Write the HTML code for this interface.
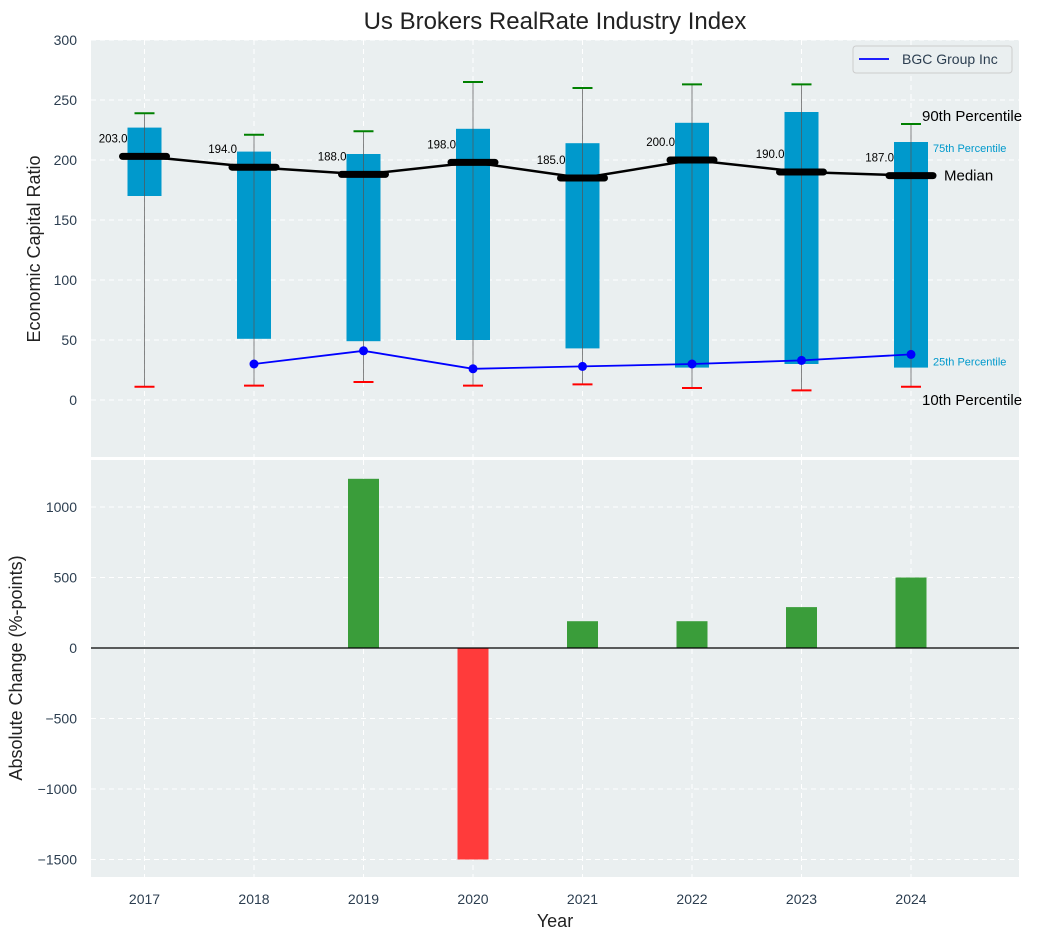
<!DOCTYPE html>
<html><head><meta charset="utf-8">
<style>
body{margin:0;background:#fff;font-family:"Liberation Sans",sans-serif;}
svg text{font-family:"Liberation Sans",sans-serif;}
</style></head>
<body>
<svg id="c" width="1043" height="940"></svg>
<script>
const years=["2017","2018","2019","2020","2021","2022","2023","2024"];
const p10=[11,12,15,12,13,10,8,11];
const p25=[170,51,49,50,43,27,30,27];
const medians=[203,194,188,198,185,200,190,187];
const p75=[227,207,205,226,214,231,240,215];
const p90=[239,221,224,265,260,263,263,230];
const bgcYears=["2018","2019","2020","2021","2022","2023","2024"];
const bgcValues=[30,41,26,28,30,33,38];
const changes=[0,0,1200,-1500,190,190,290,500];
const topTicks=[0,50,100,150,200,250,300];
const botTicks=[-1500,-1000,-500,0,500,1000];

const NS="http://www.w3.org/2000/svg";
const svg=document.getElementById('c');
function el(tag,attrs,parent){const e=document.createElementNS(NS,tag);for(const k in attrs)e.setAttribute(k,attrs[k]);(parent||svg).appendChild(e);return e;}
const L=91,R=1019;
const T1=40,B1=457,T2=460,B2=877;
function x(i){return 144.5+i*109.5;}
function y1(v){return 400-v*1.2;}
function y2(v){return 648-v*0.141;}
function xi(yr){return years.indexOf(yr);}

let bg1=el('rect',{x:L,y:T1,width:R-L,height:B1-T1,fill:'#eaeff0'});


let bg2=el('rect',{x:L,y:T2,width:R-L,height:B2-T2,fill:'#eaeff0'});



years.forEach((yr,i)=>{
  let g=el('line',{x1:x(i),x2:x(i),y1:T1,y2:B1,stroke:'#fff','stroke-dasharray':'5,4','stroke-width':1});
  
  
  let g2=el('line',{x1:x(i),x2:x(i),y1:T2,y2:B2,stroke:'#fff','stroke-dasharray':'5,4','stroke-width':1});
  
  
  let t=el('text',{x:x(i),y:904,'text-anchor':'middle','font-size':14,fill:'#2c3e50'});
  t.textContent=yr;
  
  
});
topTicks.forEach(v=>{
  let g=el('line',{x1:L,x2:R,y1:y1(v),y2:y1(v),stroke:'#fff','stroke-dasharray':'5,4'});
  
  
  let t=el('text',{x:77,y:y1(v)+5,'text-anchor':'end','font-size':14,fill:'#2c3e50'});
  t.textContent=v;
  
  
});
botTicks.forEach(v=>{
  let g=el('line',{x1:L,x2:R,y1:y2(v),y2:y2(v),stroke:'#fff','stroke-dasharray':'5,4'});
  
  
  let t=el('text',{x:77,y:y2(v)+5,'text-anchor':'end','font-size':14,fill:'#2c3e50'});
  t.textContent=(v<0?'\u2212'+(-v):v);
  
  
});

years.forEach((yr,i)=>{
  let b=el('rect',{x:x(i)-17,y:y1(p75[i]),width:34,height:y1(p25[i])-y1(p75[i]),fill:'#0099cc'});
  
  
  let w=el('line',{x1:x(i),x2:x(i),y1:y1(p90[i]),y2:y1(p10[i]),stroke:'#555','stroke-width':1,opacity:0.7});
  
  
  let c1=el('line',{x1:x(i)-10,x2:x(i)+10,y1:y1(p90[i]),y2:y1(p90[i]),stroke:'green','stroke-width':2});
  
  
  let c2=el('line',{x1:x(i)-10,x2:x(i)+10,y1:y1(p10[i]),y2:y1(p10[i]),stroke:'red','stroke-width':2});
  
  
});
let mp=el('polyline',{points:medians.map((v,i)=>x(i)+','+y1(v)).join(' '),fill:'none',stroke:'#000','stroke-width':2.5});


years.forEach((yr,i)=>{
  let m=el('line',{x1:x(i)-22,x2:x(i)+22,y1:y1(medians[i]),y2:y1(medians[i]),stroke:'#000','stroke-width':7,'stroke-linecap':'round'});
  
  
  let t=el('text',{x:x(i)-17,y:y1(medians[i])-14,'text-anchor':'end','font-size':11.5,fill:'#000'});
  t.textContent=medians[i].toFixed(1);
  
  
});
let bp=el('polyline',{points:bgcValues.map((v,i)=>x(xi(bgcYears[i]))+','+y1(v)).join(' '),fill:'none',stroke:'blue','stroke-width':1.8});


bgcValues.forEach((v,i)=>{
  let c=el('circle',{cx:x(xi(bgcYears[i])),cy:y1(v),r:4.5,fill:'blue'});
  
  
});
const li=years.length-1;
function ann(txt,xx,yy,size,col,name){let t=el('text',{x:xx,y:yy,'font-size':size,fill:col});t.textContent=txt;}
ann('90th Percentile',x(li)+11,y1(p90[li])-3,15,'#000','p90-annotation');
ann('75th Percentile',x(li)+22,y1(p75[li])+10,11,'#0099cc','p75-annotation');
ann('Median',x(li)+33,y1(medians[li])+5,15,'#000','median-annotation');
ann('25th Percentile',x(li)+22,y1(p25[li])-2,11,'#0099cc','p25-annotation');
ann('10th Percentile',x(li)+11,y1(p10[li])+18,15,'#000','p10-annotation');

let lg=el('g',{});


el('rect',{x:853,y:46,width:159,height:27,rx:3,fill:'#eaeff0',stroke:'#ccc'},lg);
el('line',{x1:859,x2:889,y1:59,y2:59,stroke:'blue','stroke-width':1.8},lg);
let lt=el('text',{x:902,y:64,'font-size':14,fill:'#2c3e50'},lg);lt.textContent='BGC Group Inc';

years.forEach((yr,i)=>{
  const v=changes[i];
  if(v===0)return;
  let b=el('rect',{x:x(i)-15.5,y:Math.min(y2(v),y2(0)),width:31,height:Math.abs(y2(v)-y2(0)),fill:v>0?'#3a9d3a':'#ff3b3b'});
  
  
});
let zl=el('line',{x1:L,x2:R,y1:y2(0),y2:y2(0),stroke:'#000','stroke-width':1.2});



let tt=el('text',{x:555,y:29,'text-anchor':'middle','font-size':24,fill:'#222'});tt.textContent='Us Brokers RealRate Industry Index';

let ya=el('text',{x:0,y:0,'text-anchor':'middle','font-size':18,fill:'#222',transform:'translate(40,249) rotate(-90)'});ya.textContent='Economic Capital Ratio';

let yb=el('text',{x:0,y:0,'text-anchor':'middle','font-size':18,fill:'#222',transform:'translate(22,668) rotate(-90)'});yb.textContent='Absolute Change (%-points)';

let xa=el('text',{x:555,y:927,'text-anchor':'middle','font-size':18,fill:'#222'});xa.textContent='Year';

</script>
</body></html>
